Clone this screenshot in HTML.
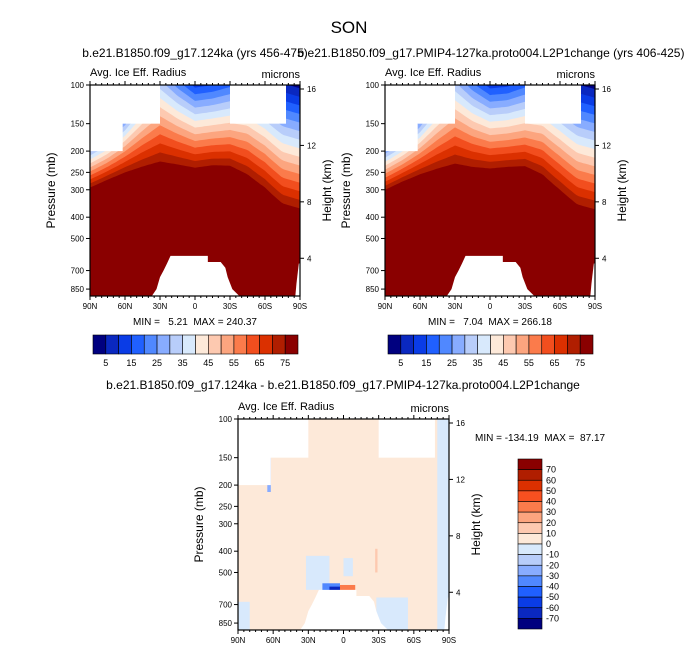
<!DOCTYPE html>
<html><head><meta charset="utf-8"><style>
body{margin:0;background:#fff}
svg{display:block;font-family:"Liberation Sans",Arial,sans-serif}
text{white-space:pre}
</style></head><body>
<svg id="fig" width="699" height="654" viewBox="0 0 699 654" xmlns="http://www.w3.org/2000/svg">
<text x="349" y="33" font-size="17" text-anchor="middle">SON</text>
<text x="195" y="57" font-size="12" text-anchor="middle">b.e21.B1850.f09_g17.124ka (yrs 456-475)</text>
<text x="491" y="57" font-size="12" text-anchor="middle">b.e21.B1850.f09_g17.PMIP4-127ka.proto004.L2P1change (yrs 406-425)</text>
<text x="343" y="389" font-size="12" text-anchor="middle">b.e21.B1850.f09_g17.124ka - b.e21.B1850.f09_g17.PMIP4-127ka.proto004.L2P1change</text>
<g id="panels"></g>
</svg>
<script>
// ---- data ----
const lats = [90,75,60,45,30,15,0,-15,-30,-45,-60,-75,-90];
const topLeft = [293,270,250,235,223,230,238,232,233,255,293,346,365];   // pressure (mb) where values reach 75
const topRight = [300,275,255,240,228,236,240,236,234,255,300,350,368];
const bandLeft = [0.042,0.045,0.055,0.075,0.095,0.08,0.07,0.07,0.075,0.085,0.088,0.09,0.09]; // ln p per 5 microns
const bandRight = [0.042,0.045,0.055,0.075,0.095,0.08,0.07,0.07,0.075,0.085,0.088,0.09,0.09];
const levels = [0,5,10,15,20,25,30,35,40,45,50,55,60,65,70,75];
const absColors = ["#00007f","#0a28c0","#0a3ce6","#2060ff","#5088ff","#88acff","#b8cdfa","#d8e9fc","#fde9d9","#fdc9b0","#fca57f","#fb7b4b","#f24e1e","#db3000","#b01e00","#8a0000"];
const absLabels = ["5","15","25","35","45","55","65","75"];
const diffLabels = ["70","60","50","40","30","20","10","0","-10","-20","-30","-40","-50","-60","-70"];
const diffColors = ["#8a0000","#b01e00","#db3000","#f85020","#fb7b4b","#fca57f","#fdc9b0","#fde9d9","#d8e9fc","#b8cdfa","#88acff","#5088ff","#2060ff","#0a3ce6","#0a28c0","#00007f"];
const missing = [[90,30,100,150],[90,62,150,200],[-30,-78,100,150]]; // lat1,lat2,p1,p2
const topo = [[37,914],[33,850],[30,750],[27,700],[24,650],[21,600],[-11,600],[-11,640],[-22,640],[-26,680],[-28,750],[-32,850],[-38,914]];
const topoPole = [[-86,914],[-87,800],[-89,650],[-90,650],[-90,914]];
const diffPatches = [[32,12,420,600,"#d8e9fc"],[0,-8,430,520,"#d8e9fc"],[-28,-55,650,914,"#d8e9fc"],[-80,-90,100,914,"#d8e9fc"],[90,80,680,914,"#d8e9fc"],[65,62,150,215,"#88acff"],[-27,-29,390,500,"#fdc9b0"],[18,3,560,610,"#5088ff"],[12,3,580,610,"#0a28c0"],[3,-10,570,610,"#fb7b4b"],[-12,-21,640,680,"#2060ff"]];
const pTicks = [100,150,200,250,300,400,500,700,850];
const hTicks = [4,8,12,16];
const latTicks = [90,60,30,0,-30,-60,-90];
const latLabels = ["90N","60N","30N","0","30S","60S","90S"];

const NS="http://www.w3.org/2000/svg";
const root=document.getElementById('panels');
function mk(tag,attrs,parent){const e=document.createElementNS(NS,tag);for(const k in attrs)e.setAttribute(k,attrs[k]);(parent||root).appendChild(e);return e;}
function interp(arr,lat){for(let i=0;i<lats.length-1;i++){if(lat<=lats[i]&&lat>=lats[i+1]){const t=(lats[i]-lat)/(lats[i]-lats[i+1]);return arr[i]+(arr[i+1]-arr[i])*t;}}return arr[arr.length-1];}

function panel(x0,y0,W,H,kind,top,band,name){
  const g=mk('g',{});
  
  
  const X=lat=>x0+(90-lat)/180*W;
  const Y=p=>y0+Math.log(p/100)/Math.log(914/100)*H;
  const clipId=name+'-clip';
  const cp=mk('clipPath',{id:clipId},g);mk('rect',{x:x0,y:y0,width:W,height:H},cp);
  const f=mk('g',{'clip-path':'url(#'+clipId+')'},g);
  
  
  if(kind==='abs'){
    mk('rect',{x:x0,y:y0,width:W,height:H,fill:absColors[0]},f);
    for(let k=1;k<levels.length;k++){
      const steps=15-k;let pts=[];
      for(let lat=90;lat>=-90;lat-=2){const lp=Math.log(interp(top,lat))-steps*interp(band,lat);pts.push(X(lat).toFixed(1)+','+Y(Math.exp(lp)).toFixed(1));}
      pts.push(X(-90)+','+(y0+H+5));pts.push(X(90)+','+(y0+H+5));
      const b=mk('polygon',{points:pts.join(' '),fill:absColors[k]},f);
      
      
    }
  } else {
    mk('rect',{x:x0,y:y0,width:W,height:H,fill:"#fde9d9"},f);
    diffPatches.forEach(d=>{
      const r=mk('rect',{x:X(d[0]),y:Y(d[2]),width:X(d[1])-X(d[0]),height:Y(d[3])-Y(d[2]),fill:d[4]},f);
      
      
    });
  }
  missing.forEach(m=>{mk('rect',{x:X(m[0]),y:Y(m[2])-1,width:X(m[1])-X(m[0]),height:Y(m[3])-Y(m[2])+1,fill:'#fff'},f);});
  const tp=mk('polygon',{points:topo.map(q=>X(q[0])+','+Y(q[1])).join(' '),fill:'#fff'},f);
  
  
  mk('polygon',{points:topoPole.map(q=>X(q[0])+','+Y(q[1])).join(' '),fill:'#fff'},f);
  mk('rect',{x:x0,y:y0,width:W,height:H,fill:'none',stroke:'#000','stroke-width':1.2},g);
  pTicks.forEach(p=>{const y=Y(p);mk('line',{x1:x0-4,x2:x0,y1:y,y2:y,stroke:'#000'},g);
    const t=mk('text',{x:x0-6,y:y+3,'font-size':8,'text-anchor':'end'},g);t.textContent=p;
    
    });
  hTicks.forEach(h=>{const p=1112*Math.exp(-h/6.76);const y=Y(p);mk('line',{x1:x0+W,x2:x0+W+4,y1:y,y2:y,stroke:'#000'},g);
    const t=mk('text',{x:x0+W+7,y:y+3,'font-size':8},g);t.textContent=h;
    
    });
  latTicks.forEach((l,i)=>{const x=X(l);mk('line',{x1:x,x2:x,y1:y0+H,y2:y0+H+4,stroke:'#000'},g);mk('line',{x1:x,x2:x,y1:y0,y2:y0-4,stroke:'#000'},g);
    const t=mk('text',{x:x,y:y0+H+13,'font-size':8,'text-anchor':'middle'},g);t.textContent=latLabels[i];
    
    });
  for(let l=85;l>-90;l-=5){if(l%30===0)continue;const x=X(l);mk('line',{x1:x,x2:x,y1:y0+H,y2:y0+H+2,stroke:'#000'},g);mk('line',{x1:x,x2:x,y1:y0,y2:y0-2,stroke:'#000'},g);}
  let t=mk('text',{x:x0,y:y0-9,'font-size':11},g);t.textContent='Avg. Ice Eff. Radius';
  
  
  t=mk('text',{x:x0+W,y:y0-7,'font-size':11,'text-anchor':'end'},g);t.textContent='microns';
  
  
  t=mk('text',{x:0,y:0,'font-size':12,'text-anchor':'middle',transform:`translate(${x0-35},${y0+H/2}) rotate(-90)`},g);t.textContent='Pressure (mb)';
  
  
  t=mk('text',{x:0,y:0,'font-size':12,'text-anchor':'middle',transform:`translate(${x0+W+31},${y0+H/2}) rotate(-90)`},g);t.textContent='Height (km)';
  
  
}
function hbar(x0,y0,w,h,name){
  const g=mk('g',{});
  
  
  const bw=w/absColors.length;
  absColors.forEach((c,i)=>mk('rect',{x:x0+i*bw,y:y0,width:bw,height:h,fill:c,stroke:'#000','stroke-width':0.6},g));
  absLabels.forEach((l,i)=>{const t=mk('text',{x:x0+(2*i+1)*bw,y:y0+h+12,'font-size':9,'text-anchor':'middle'},g);t.textContent=l;
    
    });
}
function vbar(x0,y0,w,h,name){
  const g=mk('g',{});
  
  
  const bh=h/diffColors.length;
  diffColors.forEach((c,i)=>mk('rect',{x:x0,y:y0+i*bh,width:w,height:bh,fill:c,stroke:'#000','stroke-width':0.6},g));
  diffLabels.forEach((l,i)=>{const t=mk('text',{x:x0+w+4,y:y0+(i+1)*bh+3,'font-size':9},g);t.textContent=l;
    
    });
}
panel(90,85,210,211,'abs',topLeft,bandLeft,'left-panel');
panel(385,85,210,211,'abs',topRight,bandRight,'right-panel');
panel(238,419,211,211,'diff',topLeft,bandLeft,'diff-panel');
let s=mk('text',{x:195,y:325,'font-size':10,'text-anchor':'middle'});s.textContent='MIN =   5.21  MAX = 240.37';


s=mk('text',{x:490,y:325,'font-size':10,'text-anchor':'middle'});s.textContent='MIN =   7.04  MAX = 266.18';


s=mk('text',{x:475,y:441,'font-size':10});s.textContent='MIN = -134.19  MAX =  87.17';


hbar(93,335,205,19,'left-colorbar');
hbar(388,335,205,19,'right-colorbar');
vbar(518,459,24,170,'diff-colorbar');
</script>
</body></html>
